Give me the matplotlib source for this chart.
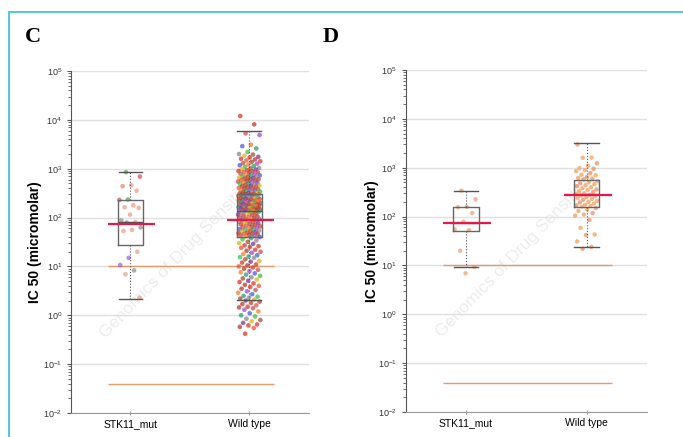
import matplotlib.pyplot as plt
from matplotlib.lines import Line2D
from matplotlib.ticker import FixedLocator, NullFormatter

plt.rcParams['font.family'] = ['Liberation Sans', 'DejaVu Sans']
plt.rcParams['mathtext.default'] = 'regular'

groups = ["STK11_mut", "Wild type"]
ref_lines = [10, 0.04]
decades = [1e-2, 1e-1, 1, 10, 100, 1e3, 1e4, 1e5]

# ---- panel C : IC50 values (micromolar)
c_mut = [850, 690, 460, 440, 355, 235, 230, 178, 163, 158, 115, 87, 81, 79,
         63, 56, 53, 20, 15, 10.7, 8.3, 6.9, 2.3]
c_mut_colors = ['#3cae48', '#c0504a', '#ec9a80', '#e8826a', '#ec9a80', '#3cae48',
                '#d0504a', '#ec9a80', '#ec9a80', '#ec9a80', '#ec9a80', '#8a8a8a',
                '#ec9a80', '#7080a0', '#8a8a8a', '#ec9a80', '#ec9a80', '#ec9a80',
                '#9a5ad0', '#9a5ad0', '#8a8a8a', '#ec9a80', '#ec9a80']

c_wt = [12000, 8100, 5300, 4900, 3100, 2900, 2600, 2200, 2000, 1950, 1850, 1750,
        1700, 1600, 1550, 1480, 1420, 1380, 1300, 1270, 1220, 1180, 1130, 1090,
        1040, 1010, 990, 960, 930, 900, 880, 860, 840, 810, 790, 770, 750, 730,
        715, 700, 690, 670, 655, 640, 625, 610, 600, 585, 570, 560, 545, 530,
        520, 510, 500, 490, 478, 465, 455, 445, 435, 425, 415, 405, 395, 388,
        378, 370, 362, 355, 348, 340, 333, 327, 320, 315, 310, 306, 303, 301,
        298, 292, 287, 281, 276, 270, 266, 261, 257, 252, 248, 244, 240, 236,
        232, 228, 225, 221, 218, 214, 211, 208, 205, 202, 199, 196, 193, 190,
        188, 185, 182, 180, 178, 175, 173, 171, 168, 166, 164, 162, 160, 158,
        156, 154, 152, 150, 148, 146, 144, 142, 140, 138, 136, 135,
        132, 128, 125, 121, 118, 115, 112, 109, 106, 103, 100, 98, 95, 93, 90,
        88, 86, 84, 82, 80, 78, 76, 74, 72, 70, 68, 66, 65, 63, 62, 60, 58, 57,
        56, 54, 53, 52, 50, 49, 48, 47, 46, 45, 44, 43, 42, 41.5,
        40, 38, 36, 34, 32, 30, 29, 27, 26, 25, 24, 22, 21, 20, 19, 18, 17, 16,
        15.5, 15, 14, 13, 12.5, 12, 11, 10.5, 10, 9.5, 9, 8.5, 8, 7.6, 7.2, 6.8,
        6.4, 6, 5.7, 5.4, 5.1, 4.8, 4.5, 4.2, 4, 3.8, 3.5, 3.3, 3.1, 2.9, 2.7,
        2.5, 2.4, 2.3, 2.2, 2.1, 2.0, 1.9, 1.8, 1.7, 1.6, 1.5, 1.45, 1.4, 1.3,
        1.2, 1.1, 1.0, 0.95, 0.85, 0.8, 0.75, 0.7, 0.65, 0.62, 0.58, 0.55, 0.42]
wt_palette = ['#d9382c', '#3cbf4a', '#c0392b', '#4a5fd0', '#d9382c', '#9b4fc4',
              '#e0b020', '#b04030', '#8a8a8a', '#e05a40', '#2f9e6e', '#d9382c',
              '#f08030', '#7a3b8f', '#c85050', '#a0522d']

c_q1 = [28, 41]
c_med = [80, 134]
c_q3 = [225, 300]
c_lo = [2.2, 2.1]
c_hi = [840, 5900]
c_mean = [74, 91]

# ---- panel D
d_mut = [340, 225, 158, 155, 118, 79, 55, 53, 20, 9.3, 6.9]
d_wt = [3000, 1620, 1600, 1230, 1100, 980, 950, 900, 850, 780, 720, 700, 650,
        620, 600, 580, 530, 510, 480, 460, 440, 420, 400, 380, 360, 350, 330,
        320, 300, 290, 280, 270, 260, 250, 240, 230, 220, 210, 200, 195, 185,
        175, 170, 165, 160, 150, 140, 130, 118, 110, 105, 85, 59, 43, 42, 31,
        24, 22]
d_q1 = [50, 155]
d_med = [75, 290]
d_q3 = [158, 550]
d_lo = [9.3, 23.5]
d_hi = [340, 3160]
d_mean = [73, 280]


def jitter(n, k):
    return [((i * 0.6180339887 + k) % 1 - 0.5) * 0.19 for i in range(n)]


def draw_panel(ax, mut, wt, mut_colors, wt_colors, q1, med, q3, lo, hi, mean, size):
    ax.scatter([1 + j for j in jitter(len(mut), 0.3)], mut, s=size, c=mut_colors,
               alpha=0.7, edgecolors='none', zorder=2)
    ax.scatter([2 + j for j in jitter(len(wt), 0.1)], wt, s=size, c=wt_colors,
               alpha=0.75, edgecolors='none', zorder=2)

    stats = [dict(q1=q1[i], med=med[i], q3=q3[i], whislo=lo[i], whishi=hi[i], fliers=[])
             for i in range(2)]
    ax.bxp(stats, positions=[1, 2], widths=0.21, capwidths=[0.2, 0.2], showfliers=False,
           boxprops=dict(color='#666666', lw=1),
           medianprops=dict(color='#555555', lw=1),
           whiskerprops=dict(color='#555555', lw=0.8, ls=':'),
           capprops=dict(color='#555555', lw=1), zorder=3)

    for i, m in enumerate(mean):
        ax.hlines(m, i + 1 - 0.19, i + 1 + 0.21, color='#e8174a', lw=1.6, zorder=4)
    for r in ref_lines:
        ax.hlines(r, 0.81, 2.21, color='#e59a6a', lw=1, zorder=1)

    ax.set_yscale('log')
    ax.set_ylim(1e-2, 1e5)
    ax.set_xlim(0.5, 2.5)
    ax.yaxis.set_major_locator(FixedLocator(decades))
    minors = [m * d for d in decades[:-1] for m in range(2, 10)]
    ax.yaxis.set_minor_locator(FixedLocator(minors))
    ax.yaxis.set_minor_formatter(NullFormatter())
    ax.yaxis.grid(True, which='major', color='#e0e0e0', lw=1, zorder=0)
    ax.set_axisbelow(True)
    ax.set_xticks([1, 2])
    ax.set_xticklabels(groups, fontsize=7.5)
    ax.tick_params(axis='y', which='major', labelsize=6.5, length=3, color='#555555',
                   labelcolor='#333333')
    ax.tick_params(axis='y', which='minor', length=2, color='#555555')
    ax.tick_params(axis='x', length=3, direction='inout', color='#999999', pad=3)
    ax.spines['top'].set_visible(False)
    ax.spines['right'].set_visible(False)
    ax.spines['left'].set_color('#555555')
    ax.spines['bottom'].set_color('#999999')
    ax.set_ylabel("IC 50 (micromolar)", fontsize=10, fontweight='bold')
    ax.text(0.46, 0.46, "Genomics of Drug Sensitivity", transform=ax.transAxes,
            rotation=46, fontsize=12.5, color='#ececec', ha='center', va='center', zorder=0)


fig = plt.figure(figsize=(6.83, 4.37), dpi=100)
ax_c = fig.add_axes([0.104, 0.0549, 0.348, 0.7826])
ax_d = fig.add_axes([0.594, 0.0572, 0.353, 0.7826])

wt_colors = [wt_palette[(i * 7) % len(wt_palette)] for i in range(len(c_wt))]
draw_panel(ax_c, c_mut, c_wt, c_mut_colors, wt_colors,
           c_q1, c_med, c_q3, c_lo, c_hi, c_mean, 11)
d_wt_colors = ['#f0a060' if i % 3 else '#e8906a' for i in range(len(d_wt))]
draw_panel(ax_d, d_mut, d_wt, ['#ec9a70'] * len(d_mut), d_wt_colors,
           d_q1, d_med, d_q3, d_lo, d_hi, d_mean, 10)
ax_c.yaxis.set_label_coords(-0.124, 0.5)
ax_d.yaxis.set_label_coords(-0.112, 0.5)

fig.text(25 / 683, 1 - 37 / 437, "C", family='Liberation Serif', fontweight='bold',
         fontsize=16, va='center')
fig.text(323 / 683, 1 - 37 / 437, "D", family='Liberation Serif', fontweight='bold',
         fontsize=16, va='center')

# thin frame around the figure panel
fig.add_artist(Line2D([9 / 683, 1], [1 - 12 / 437] * 2, color='#5bc4e0', lw=1.5,
                      transform=fig.transFigure))
fig.add_artist(Line2D([9 / 683] * 2, [0, 1 - 12 / 437], color='#5bc4e0', lw=1.5,
                      transform=fig.transFigure))

fig.savefig("out.png", dpi=100)
